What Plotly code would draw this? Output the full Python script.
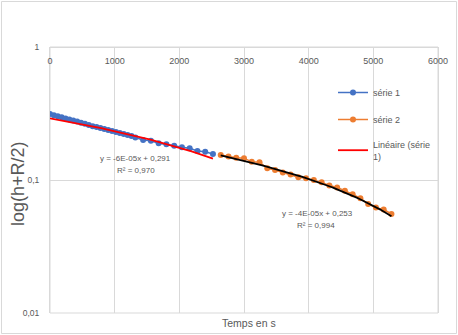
import numpy as np
import plotly.graph_objects as go

# ---------------- data ----------------
t1 = [0, 60, 120, 180, 240, 300, 360, 420, 480, 540, 600, 660, 720, 780, 840, 900,
      960, 1020, 1080, 1140, 1200, 1260, 1320, 1440, 1560, 1680, 1800, 1920, 2040,
      2160, 2280, 2400, 2520]
v1 = [0.313, 0.307, 0.301, 0.296, 0.290, 0.285, 0.280, 0.275, 0.269, 0.265, 0.259,
      0.254, 0.250, 0.246, 0.242, 0.238, 0.234, 0.230, 0.226, 0.222, 0.218, 0.214,
      0.209, 0.200, 0.197, 0.189, 0.186, 0.181, 0.176, 0.173, 0.165, 0.163, 0.157]

t2 = [2640, 2760, 2880, 3000, 3120, 3240, 3360, 3480, 3600, 3720, 3840, 3960, 4080,
      4200, 4320, 4440, 4560, 4680, 4800, 4920, 5040, 5160, 5280]
v2 = [0.154, 0.150, 0.147, 0.146, 0.137, 0.136, 0.1225, 0.119, 0.114, 0.110, 0.105,
      0.103, 0.100, 0.096, 0.091, 0.088, 0.083, 0.078, 0.073, 0.066, 0.062, 0.060,
      0.0555]

# linear trendlines (slope, intercept) and their displayed labels
trend1 = [-5.8e-05, 0.291]
trend2 = [-3.78e-05, 0.253]
trend1_label = ["y = -6E-05x + 0,291", "R² = 0,970"]
trend2_label = ["y = -4E-05x + 0,253", "R² = 0,994"]

x_ticks = [0, 1000, 2000, 3000, 4000, 5000, 6000]
y_ticks = [0.01, 0.1, 1]
y_ticktext = ["0,01", "0,1", "1"]

series_names = ["série 1", "série 2", "Linéaire (série<br>1)"]

# ---------------- layout geometry ----------------
W, H = 458, 335
ML, MR, MT, MB = 50, 20, 47, 22
PW, PH = W - ML - MR, H - MT - MB


def px(x):
    return (x - ML) / PW


def py(y):
    return (H - MB - y) / PH


GRID = "#d9d9d9"
TXT = "#595959"
FONT = "Liberation Sans, Arial, sans-serif"

fig = go.Figure()

fig.add_trace(go.Scatter(
    x=t1, y=v1, mode="lines+markers", name=series_names[0],
    line=dict(color="#4472C4", width=1.5),
    marker=dict(color="#4472C4", size=6),
    legendgroup="a"))
fig.add_trace(go.Scatter(
    x=t2, y=v2, mode="lines+markers", name=series_names[1],
    line=dict(color="#ED7D31", width=1.5),
    marker=dict(color="#ED7D31", size=6),
    legendgroup="b"))

tx1 = np.linspace(min(t1), max(t1), 60)
fig.add_trace(go.Scatter(
    x=tx1, y=trend1[0] * tx1 + trend1[1], mode="lines", name=series_names[2],
    line=dict(color="#FF0000", width=1.8), legendgroup="c"))
tx2 = np.linspace(min(t2), max(t2), 60)
fig.add_trace(go.Scatter(
    x=tx2, y=trend2[0] * tx2 + trend2[1], mode="lines", showlegend=False,
    line=dict(color="#000000", width=1.8)))

annotations = [
    dict(text=trend1_label[0], x=px(135.5), y=py(158)),
    dict(text=trend1_label[1], x=px(135.5), y=py(170)),
    dict(text=trend2_label[0], x=px(317.5), y=py(213)),
    dict(text=trend2_label[1], x=px(316), y=py(225)),
]
annotations = [dict(a, xref="paper", yref="paper", showarrow=False,
                    xanchor="center", yanchor="middle",
                    font=dict(family=FONT, size=8, color=TXT)) for a in annotations]
annotations.append(dict(text="Temps en s", xref="paper", yref="paper",
                        x=px(249), y=py(323), showarrow=False,
                        xanchor="center", yanchor="middle",
                        font=dict(family=FONT, size=10.5, color=TXT)))
annotations.append(dict(text="log(h+R/2)", xref="paper", yref="paper",
                        x=px(18), y=py(184), showarrow=False, textangle=-90,
                        xanchor="center", yanchor="middle",
                        font=dict(family=FONT, size=18, color=TXT)))

fig.update_layout(
    width=W, height=H, autosize=False,
    margin=dict(l=ML, r=MR, t=MT, b=MB, pad=0),
    paper_bgcolor="white", plot_bgcolor="white",
    font=dict(family=FONT, size=9, color=TXT),
    showlegend=True,
    legend=dict(x=px(333), y=py(78), xanchor="left", yanchor="top",
                bgcolor="rgba(0,0,0,0)", itemwidth=30, tracegroupgap=8,
                font=dict(family=FONT, size=9, color=TXT)),
    annotations=annotations,
    shapes=[
        dict(type="rect", xref="paper", yref="paper",
             x0=px(1.5), x1=px(456.5), y0=py(333.5), y1=py(1.5),
             line=dict(color=GRID, width=1), layer="below"),
        dict(type="rect", xref="paper", yref="paper",
             x0=0, x1=1, y0=0, y1=1,
             line=dict(color=GRID, width=1), layer="below"),
    ],
)

# x axis sits at y = 1 (top of the log axis) with its labels below it, as in Excel
fig.update_xaxes(
    range=[0, 6000], side="bottom", anchor="free", position=1.0,
    tickvals=x_ticks, automargin=False,
    ticks="", ticklabelstandoff=5,
    showgrid=True, gridcolor=GRID, gridwidth=1,
    showline=True, linecolor=GRID, linewidth=1,
    zeroline=False,
    tickfont=dict(family=FONT, size=9, color=TXT))
fig.update_yaxes(
    type="log", range=[-2, 0], tickvals=y_ticks, ticktext=y_ticktext,
    automargin=False,
    showgrid=True, gridcolor=GRID, gridwidth=1,
    showline=True, linecolor=GRID, linewidth=1, mirror=True,
    zeroline=False, ticks="", ticklabelstandoff=8,
    tickfont=dict(family=FONT, size=8.5, color=TXT))

fig.write_html("out.html")
